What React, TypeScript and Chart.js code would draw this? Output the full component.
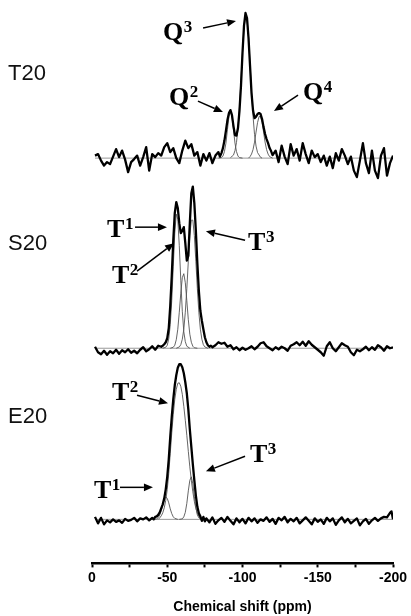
import React, { useEffect, useRef } from 'react';
import { Chart, registerables } from 'chart.js';

Chart.register(...registerables);

// ---------- axis ----------
const X_TICKS = [0, -50, -100, -150, -200];
const X_TITLE = 'Chemical shift (ppm)';

// vertical stacking offsets (intensity units) for each sample trace
const SAMPLE_NAMES = ['T20', 'S20', 'E20'];
const SAMPLE_OFFSETS = [81, 43, 8.8];

// ---------- T20 : [ppm, intensity] ----------
const T20_SPECTRUM: [number, number][] = [
  [-2, 0.5], [-4, 0.8], [-6, -0.5], [-8, -1.5], [-10, -0.8], [-12, -1.2], [-14, 0.3], [-16, 1.8], [-18, 0.2], [-20, 1.5],
  [-22, -0.3], [-24, -2.8], [-26, -0.8], [-28, -0.2], [-30, 0.5], [-32, -1.5], [-34, 0.2], [-36, 2.2], [-38, -2.5], [-40, 0.8],
  [-42, 0.2], [-44, 1.0], [-46, 0.5], [-48, 2.2], [-50, 3.0], [-52, 1.2], [-54, 2.0], [-56, 0.0], [-58, -1.0], [-60, 1.5],
  [-62, 3.5], [-64, 2.0], [-66, 2.8], [-68, 0.5], [-70, 1.2], [-72, -1.5], [-74, 0.8], [-76, -0.5], [-78, 1.0], [-80, -1.0],
  [-82, 0.5], [-84, 1.2],
  [-85, 0.3], [-86, 1.0], [-87, 2.0], [-88, 3.5], [-89, 5.5], [-90, 7.6], [-91, 9.0], [-92, 9.6], [-93, 8.6], [-94, 6.4],
  [-95, 4.6], [-96, 4.5], [-97, 6.0], [-98, 9.5], [-99, 14.5], [-100, 21.0], [-101, 26.5], [-102, 29.0], [-103, 28.0], [-104, 24.0],
  [-105, 18.5], [-106, 13.0], [-107, 9.5], [-108, 8.0], [-109, 8.3], [-110, 8.8], [-111, 9.0], [-112, 8.8], [-113, 7.8], [-114, 6.2],
  [-115, 4.8], [-116, 3.8], [-117, 3.0], [-118, 2.0], [-119, 1.4], [-120, 0.6],
  [-122, 1.5], [-124, -0.8], [-126, 2.5], [-128, 0.3], [-130, -1.2], [-132, 2.8], [-134, 0.5], [-136, 1.8], [-138, -0.5], [-140, 3.0],
  [-142, 0.8], [-144, -1.0], [-146, 1.5], [-148, 0.2], [-150, 0.8], [-152, -0.8], [-154, 0.5], [-156, -1.5], [-158, 0.3], [-160, -2.0],
  [-162, 1.0], [-164, -0.5], [-166, 1.8], [-168, 0.5], [-170, -1.2], [-172, 0.3], [-174, -2.5], [-176, -3.8], [-178, -0.5], [-180, 3.0],
  [-182, -1.0], [-184, -3.0], [-186, 1.5], [-188, -2.5], [-190, -4.0], [-192, 0.5], [-194, 2.0], [-196, -3.5], [-198, -1.0], [-200, 0.5],
];
const T20_Q2: [number, number][] = [
  [-84, 0], [-86, 0.1], [-87, 0.4], [-88, 1.3], [-89, 3.0], [-90, 5.7], [-91, 8.3], [-92, 9.4], [-93, 8.3], [-94, 5.7],
  [-95, 3.0], [-96, 1.3], [-97, 0.4], [-98, 0.1], [-100, 0],
];
const T20_Q3: [number, number][] = [
  [-92, 0.1], [-94, 0.6], [-95, 1.5], [-96, 3.1], [-97, 6.0], [-98, 10.2], [-99, 15.6], [-100, 21.2], [-101, 25.9], [-102, 28.4],
  [-103, 27.7], [-104, 24.3], [-105, 19.0], [-106, 13.3], [-107, 8.4], [-108, 4.7], [-109, 2.4], [-110, 1.1], [-112, 0.16], [-113, 0],
];
const T20_Q4: [number, number][] = [
  [-104, 0], [-105, 0.3], [-106, 0.8], [-107, 1.7], [-108, 3.2], [-109, 5.2], [-110, 7.1], [-111, 8.3], [-112, 8.3], [-113, 7.1],
  [-114, 5.2], [-115, 3.2], [-116, 1.7], [-117, 0.8], [-118, 0.3], [-120, 0],
];

// ---------- S20 ----------
const S20_SPECTRUM: [number, number][] = [
  [-2, 0.3], [-4, -0.8], [-6, -1.2], [-8, -0.5], [-10, -1.3], [-12, -0.6], [-14, -1.0], [-16, -0.3], [-18, -1.1], [-20, -0.4],
  [-22, -0.8], [-24, -0.2], [-26, -0.9], [-28, -0.5], [-30, -1.0], [-32, -0.3], [-34, 0.2], [-36, -0.6], [-38, -0.2], [-40, 0.4],
  [-42, -0.3], [-44, 0.5],
  [-46, 0.3], [-47, 0.5], [-48, 0.8], [-49, 1.2], [-50, 2.0], [-51, 4.0], [-52, 8.5], [-53, 14.5], [-54, 21.5], [-55, 27.0],
  [-56, 29.2], [-57, 28.0], [-58, 25.0], [-59, 23.0], [-60, 23.5], [-61, 24.2], [-62, 21.0], [-63, 17.5], [-64, 18.5], [-65, 25.0],
  [-66, 31.0], [-67, 32.3], [-68, 29.0], [-69, 23.5], [-70, 17.0], [-71, 11.5], [-72, 7.5], [-73, 5.5], [-74, 3.8], [-75, 2.2],
  [-76, 1.2], [-77, 0.6], [-78, 0.3], [-79, 0.5], [-80, 0.2],
  [-82, 0.6], [-84, 1.2], [-86, 0.9], [-88, 1.1], [-90, 0.3], [-92, 0.6], [-94, -0.2], [-96, 0.2], [-98, -0.4], [-100, 0.1],
  [-102, -0.3], [-104, 0.0], [-106, 0.4], [-108, -0.2], [-110, 0.3], [-112, 1.0], [-114, 1.2], [-116, 0.4], [-118, 0.0], [-120, -0.4],
  [-122, 0.2], [-124, -0.2], [-126, 0.3], [-128, 0.0], [-130, -0.5], [-132, 0.5], [-134, 0.8], [-136, 1.2], [-138, 0.6], [-140, 1.3],
  [-142, 0.5], [-144, 1.4], [-146, 0.7], [-148, 0.2], [-150, -0.3], [-152, -0.8], [-154, -1.5], [-156, 0.4], [-158, 1.2], [-160, 0.0],
  [-162, -0.6], [-164, 0.2], [-166, 1.0], [-168, 0.6], [-170, 0.3], [-172, -0.8], [-174, -1.4], [-176, -0.3], [-178, -0.6], [-180, -0.2],
  [-182, 0.3], [-184, -0.4], [-186, 0.2], [-188, -0.3], [-190, 0.6], [-192, 0.2], [-194, -0.5], [-196, 0.4], [-198, 0.0], [-200, 0.2],
];
const S20_T1: [number, number][] = [
  [-47, 0], [-49, 0.2], [-50, 0.6], [-51, 1.9], [-52, 4.7], [-53, 9.6], [-54, 16.4], [-55, 23.0], [-56, 26.8], [-57, 25.8],
  [-58, 20.5], [-59, 13.6], [-60, 7.4], [-61, 3.3], [-62, 1.3], [-63, 0.4], [-65, 0],
];
const S20_T2: [number, number][] = [
  [-52, 0], [-54, 0.2], [-55, 0.6], [-56, 1.7], [-57, 3.8], [-58, 7.2], [-59, 11.0], [-60, 14.1], [-61, 14.9], [-62, 13.1],
  [-63, 9.5], [-64, 5.7], [-65, 2.8], [-66, 1.2], [-67, 0.4], [-68, 0.1], [-70, 0],
];
const S20_T3: [number, number][] = [
  [-56, 0], [-58, 0.26], [-59, 0.7], [-60, 1.8], [-61, 3.8], [-62, 7.2], [-63, 11.9], [-64, 17.4], [-65, 22.5], [-66, 25.6],
  [-67, 25.6], [-68, 22.5], [-69, 17.4], [-70, 11.9], [-71, 7.2], [-72, 3.8], [-73, 1.8], [-74, 0.7], [-75, 0.26], [-77, 0],
];

// ---------- E20 ----------
const E20_SPECTRUM: [number, number][] = [
  [-2, 0.5], [-4, -0.8], [-6, 0.3], [-8, -1.0], [-10, -0.2], [-12, -0.6], [-14, 0.0], [-16, -0.5], [-18, -0.2], [-20, -0.7],
  [-22, 0.1], [-24, -0.3], [-26, -0.1], [-28, 0.3], [-30, -0.4], [-32, 0.2], [-34, 0.0], [-36, 0.4], [-38, -0.2],
  [-40, 0.3], [-41, 0.0], [-42, 0.5], [-43, 0.6], [-44, 0.9], [-45, 1.4], [-46, 2.2], [-47, 3.0], [-48, 4.2], [-49, 6.0],
  [-50, 8.5], [-51, 12.0], [-52, 16.5], [-53, 20.5], [-54, 24.0], [-55, 26.8], [-56, 28.8], [-57, 30.3], [-58, 31.0], [-59, 31.0],
  [-60, 30.4], [-61, 29.2], [-62, 27.4], [-63, 25.2], [-64, 22.0], [-65, 18.0], [-66, 14.5], [-67, 11.0], [-68, 7.8], [-69, 4.8],
  [-70, 2.5], [-71, 1.2], [-72, 0.6], [-73, -0.3], [-74, 0.5], [-75, -0.4], [-76, 0.2],
  [-78, -0.6], [-80, 0.4], [-82, -0.9], [-84, -0.2], [-86, 0.3], [-88, -0.5], [-90, 0.5], [-92, -0.3], [-94, -1.0], [-96, 0.2],
  [-98, -0.6], [-100, 0.1], [-102, -0.8], [-104, 0.3], [-106, -0.4], [-108, 0.2], [-110, -0.7], [-112, 0.0], [-114, -0.3], [-116, 0.4],
  [-118, -0.5], [-120, 0.1], [-122, -0.9], [-124, 0.3], [-126, -0.2], [-128, 0.5], [-130, -0.6], [-132, 0.1], [-134, -0.4], [-136, 0.3],
  [-138, -0.8], [-140, -0.2], [-142, 0.4], [-144, -0.3], [-146, -1.0], [-148, 0.2], [-150, -0.5], [-152, 0.0], [-154, -0.9], [-156, 0.3],
  [-158, -0.4], [-160, 0.2], [-162, -1.1], [-164, -0.2], [-166, 0.4], [-168, -0.6], [-170, 0.1], [-172, -0.8], [-174, -0.3], [-176, 0.2],
  [-178, -1.2], [-180, -0.4], [-182, 0.1], [-184, -0.9], [-186, -0.2], [-188, 0.3], [-190, -0.3], [-192, 0.2], [-194, 0.5], [-196, 0.4],
  [-198, 1.3], [-199, 1.6], [-200, 0.0],
];
const E20_T1: [number, number][] = [
  [-42, 0], [-43, 0.1], [-44, 0.35], [-45, 0.85], [-46, 1.7], [-47, 2.85], [-48, 3.9], [-49, 4.5], [-50, 4.2], [-51, 3.3],
  [-52, 2.1], [-53, 1.15], [-54, 0.5], [-55, 0.2], [-57, 0],
];
const E20_T2: [number, number][] = [
  [-44, 0], [-45, 0.3], [-46, 0.7], [-47, 1.3], [-48, 2.3], [-49, 3.8], [-50, 6.0], [-51, 9.2], [-52, 13.2], [-53, 17.3],
  [-54, 21.0], [-55, 24.0], [-56, 26.0], [-57, 27.2], [-58, 27.3], [-59, 26.6], [-60, 25.0], [-61, 22.6], [-62, 19.8], [-63, 16.8],
  [-64, 13.6], [-65, 10.5], [-66, 7.8], [-67, 5.5], [-68, 3.6], [-69, 2.2], [-70, 1.2], [-71, 0.6], [-72, 0.2], [-74, 0],
];
const E20_T3: [number, number][] = [
  [-58, 0], [-60, 0.1], [-61, 0.5], [-62, 1.4], [-63, 3.2], [-64, 5.7], [-65, 7.8], [-66, 8.5], [-67, 7.1], [-68, 4.6],
  [-69, 2.4], [-70, 0.9], [-71, 0.3], [-72, 0.1], [-73, 0],
];

// ---------- text annotations (anchor in data units: ppm, stacked intensity) ----------
type PeakLabel = { letter: string; sup: string; at: [number, number]; from: [number, number]; to: [number, number] };
const PEAK_LABELS: PeakLabel[] = [
  { letter: 'Q', sup: '3', at: [-47.2, 104.6], from: [-73.8, 107], to: [-95.7, 108.4] },
  { letter: 'Q', sup: '2', at: [-51.2, 91.6], from: [-70.4, 92.4], to: [-87.0, 90.2] },
  { letter: 'Q', sup: '4', at: [-140.2, 92.6], from: [-136.9, 93.6], to: [-120.9, 90.4] },
  { letter: 'T', sup: '1', at: [-10.0, 65.2], from: [-28.6, 67.2], to: [-49.8, 67.2] },
  { letter: 'T', sup: '2', at: [-13.3, 56.0], from: [-29.9, 58.4], to: [-54.5, 64.0] },
  { letter: 'T', sup: '3', at: [-103.7, 62.6], from: [-101.7, 64.6], to: [-75.7, 66.4] },
  { letter: 'T', sup: '2', at: [-13.3, 32.6], from: [-29.9, 33.6], to: [-50.5, 32.0] },
  { letter: 'T', sup: '3', at: [-105.0, 20.2], from: [-101.7, 21.4], to: [-75.7, 18.4] },
  { letter: 'T', sup: '1', at: [-1.3, 13.0], from: [-18.6, 15.2], to: [-40.5, 15.2] },
];
const SAMPLE_LABEL_LEVELS = [96.6, 62.6, 28.0];

const SERIF = '"Liberation Serif", "DejaVu Serif", serif';
const SANS = '"Liberation Sans", Arial, Helvetica, sans-serif';

function drawArrow(ctx: CanvasRenderingContext2D, x1: number, y1: number, x2: number, y2: number) {
  const ang = Math.atan2(y2 - y1, x2 - x1);
  const head = 9;
  const half = 3.8;
  const bx = x2 - head * Math.cos(ang);
  const by = y2 - head * Math.sin(ang);
  ctx.beginPath();
  ctx.moveTo(x1, y1);
  ctx.lineTo(bx, by);
  ctx.lineWidth = 1.5;
  ctx.strokeStyle = '#000';
  ctx.stroke();
  ctx.beginPath();
  ctx.moveTo(x2, y2);
  ctx.lineTo(bx + half * Math.sin(ang), by - half * Math.cos(ang));
  ctx.lineTo(bx - half * Math.sin(ang), by + half * Math.cos(ang));
  ctx.closePath();
  ctx.fillStyle = '#000';
  ctx.fill();
}

const labelPlugin = {
  id: 'nmrLabels',
  afterDraw(chart: any) {
    const { ctx, scales } = chart;
    const xs = scales.x;
    const ys = scales.y;
    ctx.save();
    ctx.textBaseline = 'alphabetic';
    ctx.textAlign = 'left';
    ctx.fillStyle = '#111';
    ctx.font = `22px ${SANS}`;
    SAMPLE_NAMES.forEach((name, i) => {
      ctx.fillText(name, 8, ys.getPixelForValue(SAMPLE_LABEL_LEVELS[i]));
    });
    PEAK_LABELS.forEach((l) => {
      const px = xs.getPixelForValue(l.at[0]);
      const py = ys.getPixelForValue(l.at[1]);
      ctx.fillStyle = '#000';
      ctx.font = `bold 26px ${SERIF}`;
      ctx.fillText(l.letter, px, py);
      const w = ctx.measureText(l.letter).width;
      ctx.font = `bold 17px ${SERIF}`;
      ctx.fillText(l.sup, px + w + 0.5, py - 8);
      drawArrow(
        ctx,
        xs.getPixelForValue(l.from[0]), ys.getPixelForValue(l.from[1]),
        xs.getPixelForValue(l.to[0]), ys.getPixelForValue(l.to[1])
      );
    });
    ctx.restore();
  },
};

function toPoints(arr: [number, number][], offset: number) {
  return arr.map(([x, y]) => ({ x, y: y + offset }));
}

export default function App() {
  const ref = useRef<HTMLCanvasElement | null>(null);

  useEffect(() => {
    if (!ref.current) return;
    const spectra = [T20_SPECTRUM, S20_SPECTRUM, E20_SPECTRUM];
    const components = [
      [T20_Q2, T20_Q3, T20_Q4],
      [S20_T1, S20_T2, S20_T3],
      [E20_T1, E20_T2, E20_T3],
    ];
    const datasets: any[] = [];
    spectra.forEach((sp, i) => {
      datasets.push({
        label: SAMPLE_NAMES[i],
        data: toPoints(sp, SAMPLE_OFFSETS[i]),
        borderColor: '#000',
        borderWidth: 2.3,
        pointRadius: 0,
        borderJoinStyle: 'round',
        fill: false,
      });
    });
    components.forEach((group, i) => {
      group.forEach((c, j) => {
        datasets.push({
          label: `${SAMPLE_NAMES[i]}-fit${j}`,
          data: toPoints(c, SAMPLE_OFFSETS[i]),
          borderColor: '#555',
          borderWidth: 0.9,
          pointRadius: 0,
          fill: false,
        });
      });
    });
    spectra.forEach((sp, i) => {
      datasets.push({
        label: `${SAMPLE_NAMES[i]}-baseline`,
        data: [
          { x: sp[0][0], y: SAMPLE_OFFSETS[i] },
          { x: sp[sp.length - 1][0], y: SAMPLE_OFFSETS[i] },
        ],
        borderColor: '#999',
        borderWidth: 1,
        pointRadius: 0,
        fill: false,
      });
    });

    const chart = new Chart(ref.current, {
      type: 'line',
      data: { datasets },
      options: {
        animation: false,
        responsive: false,
        devicePixelRatio: 1,
        parsing: false as any,
        layout: { padding: { left: 92, right: 18, top: 3, bottom: 0 } },
        plugins: { legend: { display: false }, tooltip: { enabled: false } },
        elements: { line: { tension: 0 } },
        scales: {
          x: {
            type: 'linear',
            min: -200,
            max: 0,
            reverse: true,
            border: { display: true, color: '#000', width: 2.5 },
            grid: { display: true, drawOnChartArea: false, drawTicks: true, tickLength: 4, tickWidth: 2, tickColor: '#000' },
            ticks: {
              stepSize: 25,
              autoSkip: false,
              maxRotation: 0,
              padding: 2,
              color: '#000',
              font: { family: SANS, size: 14, weight: 'bold' },
              callback: (v: any) => (X_TICKS.includes(Number(v)) ? String(v) : ''),
            },
            title: {
              display: true,
              text: X_TITLE,
              color: '#000',
              font: { family: SANS, size: 14, weight: 'bold' },
              padding: { top: 11, bottom: 0 },
            },
          },
          y: { display: false, min: 0, max: 112 },
        },
      },
      plugins: [labelPlugin],
    });
    return () => chart.destroy();
  }, []);

  return (
    <div style={{ position: 'fixed', left: 0, top: 0, width: 411, height: 616, background: '#fff' }}>
      <canvas ref={ref} width={411} height={616} style={{ width: 411, height: 616, display: 'block' }} />
    </div>
  );
}
